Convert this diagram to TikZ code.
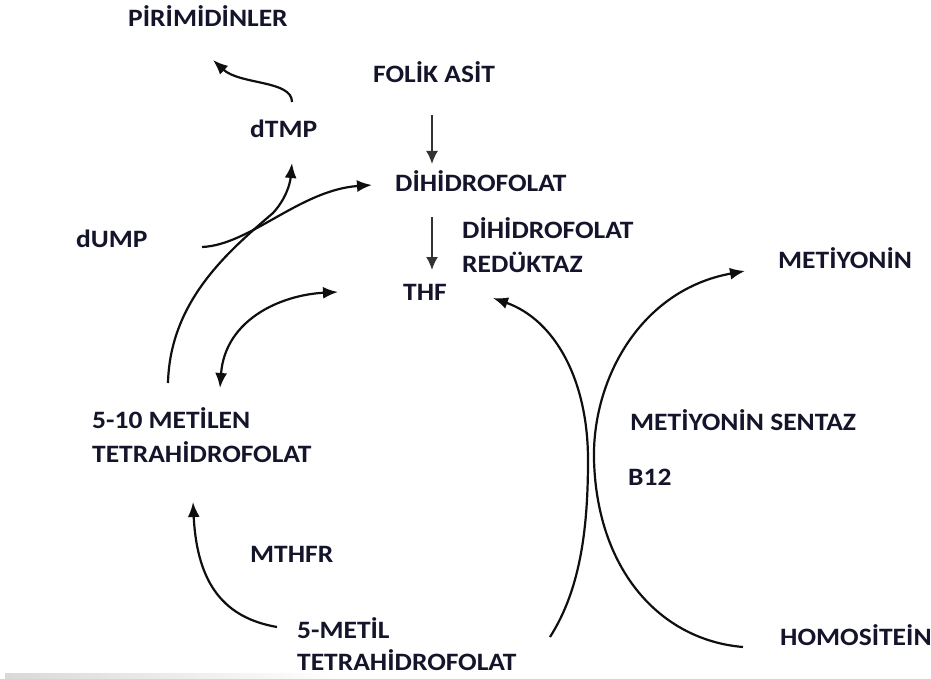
\documentclass[tikz,border=0pt]{standalone}
\usepackage{fontspec}
\setmainfont{Carlito}[FakeStretch=1.1]
\usetikzlibrary{arrows.meta}
\definecolor{txt}{RGB}{20,20,42}
\definecolor{ln}{RGB}{15,15,15}
\begin{document}
\begin{tikzpicture}[x=1pt,y=-1pt,
  lbl/.style={anchor=base west,inner sep=0pt,text=txt,font=\fontsize{25}{30}\selectfont\bfseries},
  conn/.style={draw=ln,line width=2.2pt,-{Latex[length=15pt,width=12pt]}},
  straight/.style={draw=ln!85,line width=2pt,-{Latex[length=13pt,width=12pt]}}]
\useasboundingbox[fill=white] (0,0) rectangle (931,679);
\shade[left color=gray!30,right color=white] (5,673) rectangle (340,679);

\node[lbl] (pir) at (128,27) {PİRİMİDİNLER};
\node[lbl] (fol) at (373,83) {FOLİK ASİT};
\node[lbl] (dtmp) at (250,138) {dTMP};
\node[lbl] (dhf) at (395,192) {DİHİDROFOLAT};
\node[lbl] (dump) at (76,247) {dUMP};
\node[lbl] (enz1) at (462,238) {DİHİDROFOLAT};
\node[lbl] (enz2) at (462,272) {REDÜKTAZ};
\node[lbl] (thf) at (403,300) {THF};
\node[lbl] (met) at (778,268) {METİYONİN};
\node[lbl] (mth1) at (92,428) {5-10 METİLEN};
\node[lbl] (mth2) at (92,462) {TETRAHİDROFOLAT};
\node[lbl] (ms) at (630,430) {METİYONİN SENTAZ};
\node[lbl] (b12) at (628,485) {B12};
\node[lbl] (mthfr) at (250,562) {MTHFR};
\node[lbl] (mt1) at (297,638) {5-METİL};
\node[lbl] (mt2) at (297,670) {TETRAHİDROFOLAT};
\node[lbl] (hcy) at (780,645) {HOMOSİTEİN};

% endpoints
\coordinate (folB) at (432,115);
\coordinate (dhfT) at (432,164);
\coordinate (dhfB) at (432,217);
\coordinate (thfT) at (432,270);
\coordinate (dtmpN) at (292,102);
\coordinate (pirS) at (213,60);
\coordinate (dumpE) at (202,247);
\coordinate (dhfW) at (372,185);
\coordinate (mthN) at (168,383);
\coordinate (cross) at (273,213);
\coordinate (dtmpS) at (292,163);
\coordinate (thfW) at (338,292);
\coordinate (mthNE) at (220,388);
\coordinate (mtW) at (277,627);
\coordinate (mthS) at (193,502);
\coordinate (mtE) at (550,637);
\coordinate (midL) at (588,460);
\coordinate (thfE) at (493,298);
\coordinate (hcyW) at (743,647);
\coordinate (midR) at (594,460);
\coordinate (metW) at (745,271);

\draw[straight] (folB) -- (dhfT);
\draw[straight] (dhfB) -- (thfT);
\draw[conn] (dtmpN) .. controls (292,80) and (240,85) .. (pirS);
\draw[conn] (dumpE) .. controls (250,245) and (300,190) .. (dhfW);
\draw[conn] (mthN) .. controls (170,300) and (230,250) .. (cross) .. controls (285,200) and (290,185) .. (dtmpS);
\draw[conn,{Latex[length=15pt,width=12pt]}-{Latex[length=15pt,width=12pt]}] (mthNE) .. controls (225,320) and (280,295) .. (thfW);
\draw[conn] (mtW) .. controls (225,618) and (197,585) .. (mthS);
\draw[conn] (mtE) .. controls (580,590) and (588,530) .. (midL) .. controls (588,380) and (555,320) .. (thfE);
\draw[conn] (hcyW) .. controls (660,640) and (597,570) .. (midR) .. controls (592,380) and (640,290) .. (metW);
\end{tikzpicture}
\end{document}
